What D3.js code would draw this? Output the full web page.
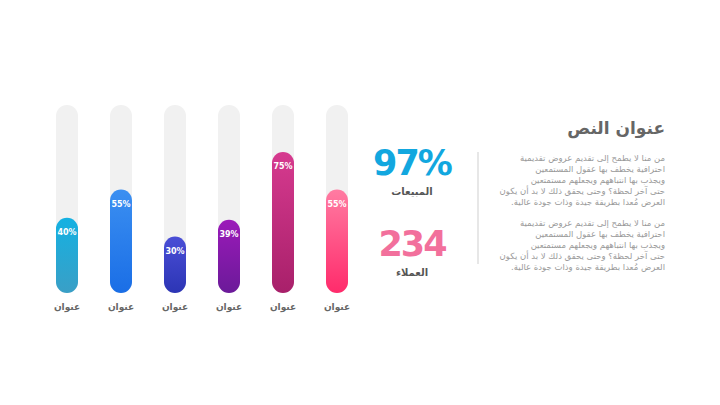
<!DOCTYPE html>
<html>
<head>
<meta charset="utf-8">
<script src="https://cdn.jsdelivr.net/npm/d3@7"></script>
<style>
  body { margin: 0; background: #fff; }
  svg { display: block; font-family: "DejaVu Sans", "Noto Sans", sans-serif; }
</style>
</head>
<body>
<svg id="canvas" width="720" height="405"></svg>
<script>
// data
var categories = ['c1', 'c2', 'c3', 'c4', 'c5', 'c6'];
var labels = ['عنوان', 'عنوان', 'عنوان', 'عنوان', 'عنوان', 'عنوان'];
var values = [40, 55, 30, 39, 75, 55];
var topColors = ['#14b1e2', '#3b8ff1', '#4a4ed6', '#9b1ab9', '#d63a8f', '#ff7ba2'];
var bottomColors = ['#3a9fc6', '#1a6ee6', '#2c35b5', '#6b1a99', '#a8206a', '#ff2b6b'];

var statValues = ['97%', '234'];
var statLabels = ['المبيعات', 'العملاء'];
var statColors = ['#12a7df', '#f2709c'];

var title = 'عنوان النص';
var paragraph = [
  'من منا لا يطمح إلى تقديم عروض تقديمية',
  'احترافية يخطف بها عقول المستمعين',
  'ويجذب بها انتباههم ويجعلهم مستمتعين',
  'حتى آخر لحظة؟ وحتى يحقق ذلك لا بد أن يكون',
  'العرض مُعدا بطريقة جيدة وذات جودة عالية.'
];

var svg = d3.select('#canvas');
var defs = svg.append('defs');

// ************************************************************************************************** //
// Bars

var barW = 22;
var xScale = d3.scalePoint().domain(categories).range([67, 337]);
var yScale = d3.scaleLinear().domain([0, 100]).range([293, 105]);

categories.forEach(function(c, i){
  var g = defs.append('linearGradient').attr('id', 'grad' + i).attr('x1', 0).attr('y1', 0).attr('x2', 0).attr('y2', 1);
  g.append('stop').attr('offset', '0%').attr('stop-color', topColors[i]);
  g.append('stop').attr('offset', '100%').attr('stop-color', bottomColors[i]);
});

var bars = svg.append('g');

bars.selectAll('.track').data(categories).enter().append('rect')
  .attr('x', function(d){ return xScale(d) - barW / 2; })
  .attr('y', yScale(100))
  .attr('width', barW)
  .attr('height', yScale(0) - yScale(100))
  .attr('rx', barW / 2)
  .attr('fill', '#f1f1f1');

bars.selectAll('.fill').data(values).enter().append('rect')
  .attr('x', function(d, i){ return xScale(categories[i]) - barW / 2; })
  .attr('y', function(d){ return yScale(d); })
  .attr('width', barW)
  .attr('height', function(d){ return yScale(0) - yScale(d); })
  .attr('rx', barW / 2)
  .attr('fill', function(d, i){ return 'url(#grad' + i + ')'; });

bars.selectAll('.pct').data(values).enter().append('text')
  .attr('x', function(d, i){ return xScale(categories[i]); })
  .attr('y', function(d){ return yScale(d) + 17; })
  .attr('text-anchor', 'middle')
  .attr('fill', '#fff')
  .attr('font-size', 8)
  .attr('font-weight', 'bold')
  .text(function(d){ return d + '%'; });

bars.selectAll('.lab').data(labels).enter().append('text')
  .attr('x', function(d, i){ return xScale(categories[i]); })
  .attr('y', 310)
  .attr('text-anchor', 'middle')
  .attr('fill', '#666')
  .attr('font-size', 9)
  .attr('font-weight', 'bold')
  .text(function(d){ return d; });

// ************************************************************************************************** //
// Stats

var stats = svg.append('g');
var statY = [175, 256];

statValues.forEach(function(v, i){
  stats.append('text')
    .attr('x', 412).attr('y', statY[i])
    .attr('text-anchor', 'middle')
    .attr('fill', statColors[i])
    .attr('font-size', 35)
    .attr('font-weight', 'bold')
    .attr('letter-spacing', -2)
    .text(v);
  stats.append('text')
    .attr('x', 412).attr('y', statY[i] + 20)
    .attr('text-anchor', 'middle')
    .attr('fill', '#555')
    .attr('font-size', 10)
    .attr('font-weight', 'bold')
    .text(statLabels[i]);
});

svg.append('line')
  .attr('x1', 478).attr('x2', 478).attr('y1', 152).attr('y2', 264)
  .attr('stroke', '#cfcfcf').attr('stroke-width', 1);

// ************************************************************************************************** //
// Text block

var txt = svg.append('g');
txt.append('text')
  .attr('x', 665).attr('y', 134)
  .attr('direction', 'rtl')
  .attr('text-anchor', 'start')
  .attr('fill', '#666')
  .attr('font-size', 17)
  .attr('font-weight', 'bold')
  .text(title);

[161, 226].forEach(function(y0){
  paragraph.forEach(function(line, j){
    txt.append('text')
      .attr('x', 665).attr('y', y0 + j * 11)
      .attr('direction', 'rtl')
      .attr('text-anchor', 'start')
      .attr('fill', '#9a9a9a')
      .attr('font-size', 8.5)
      .text(line);
  });
});
</script>
</body>
</html>
